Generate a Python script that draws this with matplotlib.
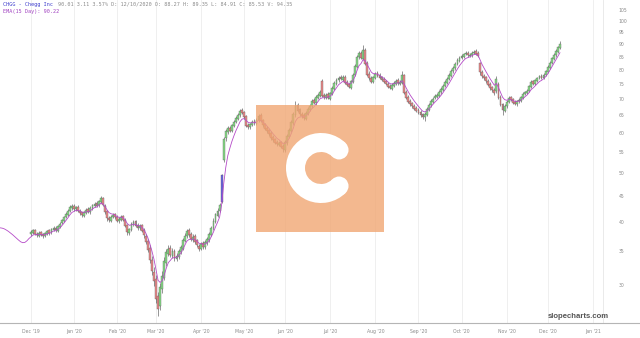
import numpy as np
import pandas as pd
import matplotlib
matplotlib.use("Agg")
import matplotlib.pyplot as plt
from matplotlib.patches import Rectangle, Wedge, Circle
from matplotlib.ticker import FixedLocator, NullLocator

# daily candles, Dec 2 2019 -> Dec 9 2020
opens = [37.8, 38.0, 38.5, 37.8, 37.5, 38.1, 37.7, 37.5, 37.8, 38.4,
         38.1, 38.5, 38.9, 38.4, 39.0, 39.7, 40.1, 40.9, 41.3, 42.1,
         42.5, 43.0, 42.3, 42.8, 42.0, 41.7, 41.1, 41.6, 42.3, 41.8,
         42.5, 43.0, 43.5, 43.1, 43.8, 44.5, 43.0, 41.9, 40.7, 40.2,
         40.8, 41.3, 40.9, 40.1, 40.4, 41.0, 40.3, 39.3, 38.0, 38.5,
         39.5, 40.0, 39.4, 38.8, 39.3, 38.5, 37.5, 36.6, 35.4, 33.5,
         31.8, 30.7, 28.4, 27.2, 29.4, 31.0, 33.1, 34.6, 35.4, 34.2,
         35.0, 33.8, 34.1, 34.8, 35.4, 36.7, 37.4, 38.4, 37.8, 36.8,
         37.4, 36.7, 35.8, 35.3, 36.2, 35.6, 36.3, 36.8, 37.7, 38.8,
         40.0, 41.1, 42.1, 43.8, 53.0, 58.5, 60.1, 61.4, 60.5, 62.0,
         63.1, 64.0, 65.0, 66.4, 65.9, 64.6, 62.2, 61.5, 62.2, 63.3,
         62.5, 63.5, 65.0, 63.6, 62.3, 61.4, 60.6, 59.9, 58.8, 58.2,
         57.6, 56.8, 57.5, 56.4, 55.6, 57.2, 58.9, 60.6, 62.7, 65.0,
         68.1, 66.7, 65.4, 65.0, 64.0, 65.4, 66.6, 67.7, 69.6, 68.6,
         70.4, 71.0, 76.0, 71.3, 70.4, 71.6, 70.1, 71.6, 73.4, 75.0,
         76.2, 77.3, 76.4, 77.5, 75.6, 74.8, 73.7, 75.6, 78.0, 81.1,
         84.7, 86.4, 84.2, 87.4, 82.3, 78.5, 77.1, 75.6, 77.0, 78.8,
         78.1, 77.2, 76.6, 75.9, 75.1, 74.3, 73.4, 74.4, 75.1, 76.3,
         75.0, 75.4, 78.0, 72.3, 70.6, 69.4, 68.6, 67.9, 67.2, 66.6,
         66.0, 65.2, 64.4, 65.2, 66.7, 68.0, 69.2, 70.3, 70.6, 71.1,
         72.2, 73.0, 74.2, 75.4, 76.6, 77.9, 79.4, 80.5, 82.0, 83.4,
         84.6, 85.0, 85.9, 86.4, 85.2, 85.4, 86.2, 87.0, 86.3, 82.5,
         79.3, 77.8, 77.2, 76.1, 74.9, 73.8, 72.9, 72.5, 75.0, 70.5,
         68.4, 66.4, 67.7, 69.0, 70.5, 70.0, 69.1, 68.3, 69.4, 69.5,
         70.3, 71.8, 72.0, 72.6, 74.0, 75.8, 74.9, 76.0, 77.1, 77.8,
         77.0, 78.2, 79.2, 80.8, 82.4, 84.1, 85.4, 86.9, 88.5]
highs = [38.5, 38.7, 38.7, 38.2, 38.3, 38.4, 38.0, 38.1, 38.6, 38.7,
         38.9, 39.3, 39.2, 39.4, 39.9, 40.5, 41.1, 41.8, 42.3, 43.1,
         43.4, 43.3, 43.0, 43.1, 42.3, 41.9, 42.0, 42.5, 42.7, 42.9,
         43.4, 43.8, 43.9, 44.2, 45.0, 44.8, 43.3, 42.2, 41.0, 41.2,
         41.6, 41.6, 41.2, 40.8, 41.2, 41.3, 40.6, 39.6, 38.9, 39.9,
         40.3, 40.3, 39.7, 39.6, 39.5, 38.8, 37.9, 37.0, 35.9, 34.2,
         32.6, 31.3, 29.0, 30.2, 31.9, 34.0, 35.4, 35.9, 35.9, 35.5,
         35.4, 34.7, 35.3, 36.0, 37.2, 38.0, 38.7, 38.9, 38.1, 37.8,
         37.8, 37.0, 36.2, 36.5, 36.6, 36.8, 37.3, 38.2, 39.3, 40.6,
         41.7, 42.5, 43.6, 49.8, 58.9, 61.2, 62.0, 61.9, 62.6, 63.6,
         64.8, 65.7, 67.0, 67.1, 66.4, 65.0, 62.8, 62.9, 63.7, 63.9,
         64.1, 65.4, 65.6, 64.0, 62.8, 61.9, 61.1, 60.4, 59.3, 58.7,
         58.1, 57.9, 57.9, 56.9, 58.0, 59.7, 61.4, 63.5, 65.9, 69.4,
         68.7, 67.2, 65.9, 65.6, 66.2, 67.4, 68.5, 70.1, 70.2, 71.2,
         71.9, 73.0, 76.8, 71.9, 72.1, 72.2, 72.4, 74.2, 75.9, 77.1,
         77.8, 78.0, 78.0, 78.2, 76.3, 75.4, 76.5, 78.9, 82.0, 85.7,
         87.1, 87.0, 89.4, 88.2, 83.2, 79.4, 77.9, 77.9, 79.3, 79.6,
         78.8, 77.9, 77.3, 76.5, 75.7, 74.9, 75.2, 76.0, 76.8, 76.9,
         76.3, 79.6, 78.6, 73.0, 71.2, 70.0, 69.2, 68.5, 67.8, 67.2,
         66.6, 65.8, 66.0, 67.5, 68.8, 70.0, 70.8, 71.5, 71.9, 73.0,
         73.8, 75.0, 76.2, 77.4, 78.8, 80.3, 81.4, 82.9, 84.3, 85.1,
         85.8, 86.5, 87.0, 87.1, 86.3, 87.0, 87.6, 87.8, 87.0, 82.9,
         80.0, 78.5, 77.9, 76.6, 75.5, 74.4, 73.5, 77.6, 75.6, 71.2,
         68.9, 68.5, 69.8, 70.9, 71.0, 70.5, 69.6, 69.8, 70.2, 71.0,
         72.2, 72.6, 73.3, 74.8, 76.2, 76.4, 76.8, 77.5, 78.2, 78.4,
         78.7, 80.0, 81.6, 83.2, 85.0, 86.3, 87.8, 89.3, 91.2]
lows = [37.5, 37.8, 37.7, 37.3, 37.3, 37.5, 37.1, 37.3, 37.6, 37.7,
        37.9, 38.3, 38.2, 38.2, 38.8, 39.5, 39.9, 40.6, 41.1, 41.9,
        42.2, 42.1, 42.0, 41.8, 41.3, 40.9, 40.8, 41.4, 41.6, 41.5,
        42.2, 42.7, 42.7, 42.8, 43.5, 43.0, 41.5, 40.2, 39.9, 40.0,
        40.6, 40.5, 39.9, 39.8, 40.1, 40.1, 39.0, 37.7, 37.7, 38.3,
        39.2, 39.1, 38.6, 38.5, 38.1, 37.2, 36.1, 34.8, 33.1, 31.4,
        29.9, 27.6, 26.0, 26.8, 28.9, 30.6, 32.7, 34.2, 34.1, 33.9,
        33.5, 33.4, 33.8, 34.5, 35.1, 36.4, 37.1, 37.3, 36.6, 36.5,
        36.2, 35.6, 35.0, 35.1, 35.4, 35.3, 36.0, 36.5, 37.4, 38.5,
        39.7, 40.8, 41.8, 43.5, 52.6, 57.9, 59.7, 60.1, 60.1, 61.6,
        62.7, 63.6, 64.6, 65.3, 64.0, 61.6, 61.1, 61.1, 61.8, 62.3,
        62.1, 63.1, 63.0, 61.7, 60.8, 60.0, 59.2, 58.2, 57.6, 57.0,
        56.5, 56.4, 55.9, 55.0, 55.1, 56.8, 58.5, 60.2, 62.2, 64.6,
        66.0, 64.9, 64.3, 63.7, 63.6, 65.0, 66.2, 67.3, 68.3, 68.2,
        70.0, 70.6, 70.7, 70.1, 70.0, 69.9, 69.7, 71.2, 73.0, 74.6,
        75.8, 76.2, 76.0, 75.0, 74.2, 73.5, 73.3, 75.2, 77.6, 80.7,
        84.2, 83.9, 83.8, 81.6, 77.8, 76.5, 75.3, 75.2, 76.6, 77.5,
        76.6, 76.0, 75.3, 74.5, 73.6, 73.2, 73.0, 74.0, 74.7, 74.8,
        74.6, 75.0, 71.6, 69.9, 68.7, 67.9, 67.3, 66.5, 65.9, 65.3,
        64.5, 63.9, 63.2, 64.8, 66.3, 67.6, 68.8, 69.9, 70.2, 70.7,
        71.8, 72.6, 73.8, 75.0, 76.2, 77.5, 79.0, 80.1, 81.6, 83.0,
        84.1, 84.6, 85.4, 85.0, 84.8, 85.0, 85.8, 85.7, 84.7, 78.3,
        77.0, 76.4, 75.4, 74.3, 73.1, 72.3, 71.4, 72.1, 69.9, 67.7,
        65.2, 66.0, 67.2, 68.6, 69.4, 68.4, 68.0, 67.9, 68.9, 69.1,
        69.9, 71.4, 71.6, 72.2, 73.6, 74.6, 74.5, 75.6, 76.7, 76.8,
        76.6, 77.8, 78.8, 80.4, 82.0, 83.7, 85.0, 86.5, 88.1]
closes = [38.1, 38.4, 37.9, 37.6, 38.0, 37.7, 37.4, 37.9, 38.3, 38.0,
          38.6, 38.9, 38.5, 39.1, 39.6, 40.2, 40.8, 41.4, 42.0, 42.7,
          42.9, 42.4, 42.7, 42.1, 41.6, 41.2, 41.7, 42.2, 41.9, 42.6,
          43.1, 43.4, 43.0, 43.9, 44.6, 43.2, 41.8, 40.6, 40.3, 40.9,
          41.2, 40.8, 40.2, 40.5, 40.9, 40.4, 39.2, 38.1, 38.6, 39.6,
          39.9, 39.3, 38.9, 39.2, 38.4, 37.6, 36.4, 35.2, 33.6, 32.0,
          30.5, 28.1, 26.9, 29.6, 31.2, 33.4, 34.8, 35.3, 34.4, 34.9,
          33.9, 34.2, 34.9, 35.6, 36.8, 37.5, 38.3, 37.6, 36.9, 37.3,
          36.5, 35.9, 35.4, 36.1, 35.7, 36.4, 36.9, 37.8, 38.9, 40.1,
          41.3, 42.0, 43.2, 49.4, 58.2, 60.4, 61.2, 60.6, 62.1, 63.0,
          64.2, 65.1, 66.3, 65.7, 64.4, 62.0, 61.6, 62.4, 63.1, 62.7,
          63.6, 64.8, 63.4, 62.1, 61.2, 60.5, 59.7, 58.6, 58.0, 57.4,
          56.9, 57.3, 56.2, 55.8, 57.4, 59.1, 60.8, 62.9, 65.2, 67.9,
          66.4, 65.3, 64.8, 64.2, 65.6, 66.8, 67.9, 69.4, 68.8, 70.6,
          71.2, 72.3, 71.1, 70.6, 71.4, 70.3, 71.8, 73.6, 75.2, 76.4,
          77.1, 76.6, 77.3, 75.4, 74.6, 73.9, 75.8, 78.2, 81.3, 84.9,
          86.2, 84.4, 87.6, 82.1, 78.3, 76.9, 75.8, 77.2, 78.6, 77.9,
          77.0, 76.4, 75.8, 74.9, 74.1, 73.6, 74.6, 75.3, 76.1, 75.2,
          75.6, 77.9, 72.1, 70.4, 69.2, 68.4, 67.8, 67.0, 66.4, 65.8,
          65.0, 64.6, 65.4, 66.9, 68.2, 69.4, 70.1, 70.8, 71.3, 72.4,
          73.1, 74.4, 75.6, 76.8, 78.1, 79.6, 80.7, 82.2, 83.6, 84.4,
          85.1, 85.8, 86.2, 85.4, 85.6, 86.4, 86.8, 86.1, 85.2, 79.1,
          77.6, 77.0, 75.9, 74.8, 73.6, 72.8, 71.9, 76.8, 70.4, 68.2,
          66.6, 67.9, 69.1, 70.3, 69.8, 68.9, 68.5, 69.2, 69.6, 70.5,
          71.6, 72.1, 72.7, 74.2, 75.6, 75.1, 76.2, 76.9, 77.6, 77.2,
          78.1, 79.4, 81.0, 82.6, 84.3, 85.6, 87.1, 88.6, 90.0]
# closes before the first candle, only feed the average line
pre_closes = [38.9, 38.7, 38.4, 38.0, 37.7, 37.3, 37.0, 36.6, 36.3, 36.0,
              35.8, 36.0, 36.5, 37.3, 38.0]
gap_day = 93  # the big gap candle drawn in blue
price_ticks = [30, 35, 40, 45, 50, 55, 60, 65, 70, 75, 80, 85, 90, 95, 100, 105]

holidays = ["2019-12-25", "2020-01-01", "2020-01-20", "2020-02-17", "2020-04-10",
            "2020-05-25", "2020-07-03", "2020-09-07", "2020-11-26", "2020-12-25",
            "2021-01-01"]
days = pd.bdate_range("2019-12-02", periods=300, freq="C", holidays=holidays)

fig = plt.figure(figsize=(6.4, 3.38), dpi=100)
ax = fig.add_axes([0, 1 - 323 / 338, 603 / 640, 323 / 338])

n = len(closes)
x = np.arange(n)
o = np.array(opens)
c = np.array(closes)
cols = np.where(c >= o, "#86dc86", "#ec8a8a").astype(object)
cols[gap_day] = "#6a62e6"

# month grid + ticks
month_idx = [i for i in range(len(days)) if i == 0 or days[i].month != days[i - 1].month]
month_idx = [i for i in month_idx if i < 279]
for i in month_idx:
    ax.axvline(i, color="#ececec", lw=0.6, zorder=0)

ax.vlines(x, lows, highs, color="#444444", lw=0.4, zorder=2)
ax.bar(x, np.abs(c - o) + 0.05, bottom=np.minimum(o, c), width=0.9,
       color=list(cols), edgecolor="#555555", linewidth=0.25, zorder=3)

ma = pd.Series(pre_closes + closes).ewm(span=6, adjust=False).mean()
ax.plot(np.arange(-len(pre_closes), n), ma, color="#b54bc8", lw=0.6, zorder=4)

ax.set_yscale("log")
ax.set_xlim(-15.1, 279)
ax.set_ylim(25.2, 110)
ax.yaxis.set_major_locator(FixedLocator(price_ticks))
ax.yaxis.set_minor_locator(NullLocator())
ax.set_yticklabels([str(v) for v in price_ticks])
ax.yaxis.tick_right()
ax.tick_params(axis="y", length=0, pad=11, labelsize=3.3, labelcolor="#8a8a8a")
ax.set_xticks(month_idx)
ax.set_xticklabels([days[i].strftime("%b '%y") for i in month_idx])
ax.tick_params(axis="x", length=0, pad=4, labelsize=3.3, labelcolor="#8a8a8a")
for s in ["top", "left", "bottom"]:
    ax.spines[s].set_visible(False)
ax.spines["right"].set_color("#e6e6e6")
ax.spines["right"].set_linewidth(0.6)

# overlay in pixel coordinates for header, watermark and bottom rule
ov = fig.add_axes([0, 0, 1, 1], zorder=5)
ov.set_xlim(0, 640)
ov.set_ylim(338, 0)
ov.axis("off")
ov.patch.set_alpha(0)
ov.plot([0, 640], [323, 323], color="#b5b5b5", lw=0.8)

ov.add_patch(Rectangle((256, 105), 128, 127, facecolor="#f1a773", alpha=0.8, lw=0))
ov.add_patch(Wedge((321, 168), 35, 45, 315, width=19, facecolor="white", lw=0))
for a in (45, -45):
    t = np.radians(a)
    ov.add_patch(Circle((321 + 25.5 * np.cos(t), 168 + 25.5 * np.sin(t)), 9.5,
                        facecolor="white", lw=0))

mono = "DejaVu Sans Mono"
ov.text(3, 4.5, "CHGG - Chegg Inc", family=mono, fontsize=3.7, color="#3d3dcc", va="center")
ov.text(58, 4.5, "90.01 3.11 3.57% D: 12/10/2020 O: 88.27 H: 89.35 L: 84.91 C: 85.53 V: 94.35",
        family=mono, fontsize=3.7, color="#8a8a8a", va="center")
ov.text(3, 11.5, "EMA(15 Day): 90.22", family=mono, fontsize=3.7, color="#a040c0", va="center")
ov.text(609, 317, "slopecharts.com", fontsize=5.6, fontweight="bold", color="#555555",
        ha="right", va="center", family="Liberation Sans")

fig.savefig("out.png", dpi=100)
